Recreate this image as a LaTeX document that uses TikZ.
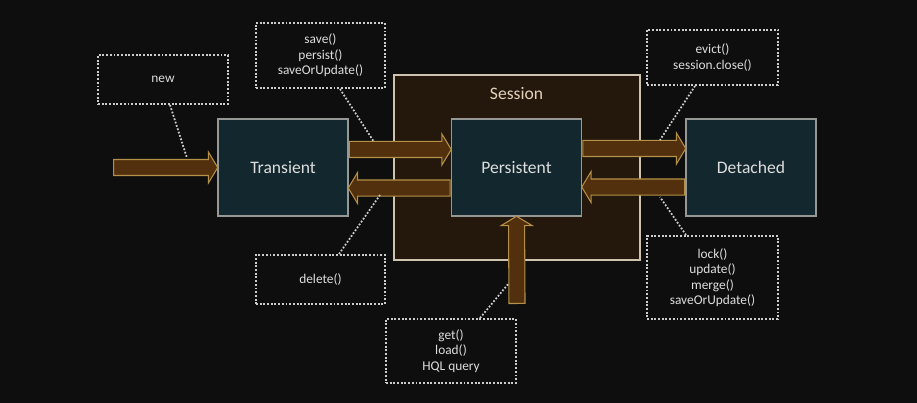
\documentclass[tikz,border=0pt]{standalone}
\usepackage{fontspec}
\setmainfont{Carlito}
\usepackage{tikz}
\usetikzlibrary{shapes.arrows, calc, positioning}
\definecolor{bgdark}{RGB}{14,14,14}
\definecolor{statefill}{RGB}{19,39,46}
\definecolor{stateline}{RGB}{150,152,150}
\definecolor{sessfill}{RGB}{36,24,13}
\definecolor{sessline}{RGB}{205,195,175}
\definecolor{flowfill}{RGB}{82,48,14}
\definecolor{flowline}{RGB}{180,145,70}
\definecolor{txtlight}{RGB}{222,222,222}
\definecolor{txtsess}{RGB}{225,210,185}
\definecolor{dotgray}{RGB}{205,205,205}
\tikzset{
  statebox/.style={rectangle, draw=stateline, fill=statefill, line width=0.9pt,
    minimum width=2.6cm, minimum height=1.94cm,
    font=\fontsize{10}{12}\selectfont, text=txtlight},
  callout/.style={rectangle, draw=dotgray, densely dotted, line width=1.1pt,
    align=center, inner sep=0pt, font=\fontsize{7.6}{8.8}\selectfont, text=txtlight},
  leader/.style={draw=dotgray, densely dotted, line width=1pt},
  flow/.style={single arrow, draw=flowline, fill=flowfill, line width=0.6pt,
    inner xsep=0pt, inner ysep=0.15cm, single arrow head extend=0.15cm,
    single arrow tip angle=118}
}
% block arrow from one point to another
\newcommand{\flowarrow}[2]{%
  \path let \p1=(#1), \p2=(#2), \n1={veclen(\x2-\x1,\y2-\y1)},
    \n2={atan2(\y2-\y1,\x2-\x1)} in
    node[flow, minimum height=\n1, rotate=\n2, anchor=tail] at (\p1) {};}

\begin{document}
\begin{tikzpicture}
  % ── Background ─────────────────────────────────────────────────────────────
  \fill[bgdark] (0,0) rectangle (18.34,-8.06);
  \useasboundingbox (0,0) rectangle (18.34,-8.06);

  % ── Session frame ──────────────────────────────────────────────────────────
  \node[rectangle, draw=sessline, fill=sessfill, line width=0.8pt,
    minimum width=4.92cm, minimum height=3.7cm] (session) at (10.34,-3.35) {};
  \node[font=\fontsize{10}{12}\selectfont, text=txtsess] (sesslabel) at (10.33,-1.88) {Session};

  % ── States ─────────────────────────────────────────────────────────────────
  \node[statebox] (transient)  at (5.66,-3.35)  {Transient};
  \node[statebox] (persistent) at (10.33,-3.35) {Persistent};
  \node[statebox] (detached)   at (15.02,-3.35) {Detached};

  % ── Transitions ────────────────────────────────────────────────────────────
  \coordinate (newstart) at (2.26,-3.35);
  \coordinate (getstart) at (10.34,-6.08);
  \flowarrow{newstart}{transient.west}
  \flowarrow{[yshift=0.36cm]transient.east}{[yshift=0.36cm]persistent.west}
  \flowarrow{[yshift=-0.41cm]persistent.west}{[yshift=-0.41cm]transient.east}
  \flowarrow{[yshift=0.38cm]persistent.east}{[yshift=0.38cm]detached.west}
  \flowarrow{[yshift=-0.39cm]detached.west}{[yshift=-0.39cm]persistent.east}
  \flowarrow{getstart}{persistent.south}

  % ── Method callouts ────────────────────────────────────────────────────────
  \node[callout, minimum width=2.6cm, minimum height=0.98cm] (newbox) at (3.26,-1.59) {new};
  \node[callout, minimum width=2.58cm, minimum height=1.3cm] (savebox) at (6.41,-1.11)
    {save()\\persist()\\saveOrUpdate()};
  \node[callout, minimum width=2.62cm, minimum height=1.1cm] (evictbox) at (14.25,-1.15)
    {evict()\\session.close()};
  \node[callout, minimum width=2.58cm, minimum height=0.98cm] (deletebox) at (6.41,-5.59) {delete()};
  \node[callout, minimum width=2.62cm, minimum height=1.66cm] (lockbox) at (14.25,-5.55)
    {lock()\\update()\\merge()\\saveOrUpdate()};
  \node[callout, minimum width=2.6cm, minimum height=1.28cm] (getbox) at (9.02,-7.02)
    {get()\\load()\\HQL query};

  % ── Leaders ────────────────────────────────────────────────────────────────
  \coordinate (newend)    at (3.74,-3.16);
  \coordinate (saveend)   at (7.48,-2.84);
  \coordinate (evictend)  at (13.2,-2.8);
  \coordinate (deleteend) at (7.6,-3.9);
  \coordinate (lockend)   at (13.2,-3.94);
  \coordinate (getend)    at (10.18,-5.66);
  \draw[leader] ([xshift=0.14cm]newbox.south) -- (newend);
  \draw[leader] ([xshift=0.39cm]savebox.south) -- (saveend);
  \draw[leader] ([xshift=-0.35cm]evictbox.south) -- (evictend);
  \draw[leader] ([xshift=0.37cm]deletebox.north) -- (deleteend);
  \draw[leader] ([xshift=-0.53cm]lockbox.north) -- (lockend);
  \draw[leader] ([xshift=0.58cm]getbox.north) -- (getend);
\end{tikzpicture}
\end{document}
